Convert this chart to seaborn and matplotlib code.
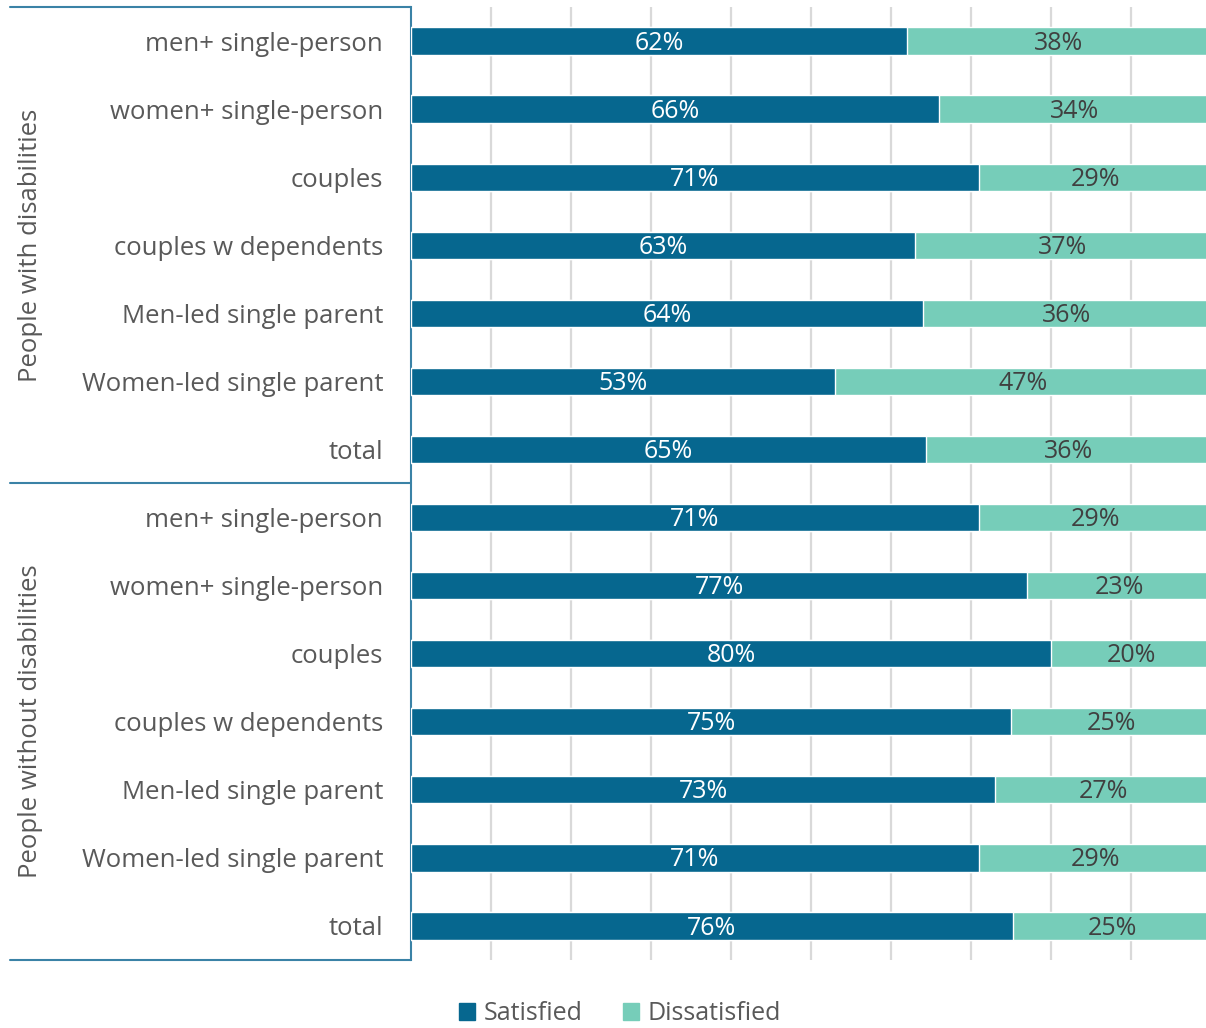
import matplotlib
matplotlib.use("Agg")
import matplotlib.pyplot as plt
import seaborn as sns
import pandas as pd
import numpy as np
from matplotlib.lines import Line2D

# ---- data ----
categories = ["men+ single-person", "women+ single-person", "couples",
              "couples w dependents", "Men-led single parent",
              "Women-led single parent", "total"]
groups = ["People with disabilities", "People without disabilities"]
satisfied = [62, 66, 71, 63, 64, 53, 65,
             71, 77, 80, 75, 73, 71, 76]
dissatisfied = [38, 34, 29, 37, 36, 47, 36,
                29, 23, 20, 25, 27, 29, 25]
legend_labels = ["Satisfied", "Dissatisfied"]

dark = "#06678f"
light = "#76cdb9"
line_col = "#3a82a6"
text_col = "#595959"

sns.set_theme(style="white")
plt.rcParams["font.family"] = ["Open Sans", "DejaVu Sans"]

rows = [f"{g}|{c}" for g in groups for c in categories]
sat = np.array(satisfied, float)
dis = np.array(dissatisfied, float)
tot = sat + dis
df = pd.DataFrame({"row": rows,
                   "sat_share": sat / tot * 100,
                   "total_share": tot / tot * 100})

fig = plt.figure(figsize=(12.06, 10.28), dpi=100)
W, H = 1206, 1028
ax = fig.add_axes([411 / W, (H - 960) / H, 800 / W, 953 / H])

sns.barplot(data=df, y="row", x="total_share", order=rows, orient="h",
            color=light, width=0.4, saturation=1, ax=ax, zorder=3)
sns.barplot(data=df, y="row", x="sat_share", order=rows, orient="h",
            color=dark, width=0.4, saturation=1, ax=ax, zorder=3)

ax.set_xlim(0, 100)
ax.set_ylim(len(rows) - 0.5, -0.5)
ax.set_xlabel("")
ax.set_ylabel("")
ax.set_xticks(np.arange(10, 101, 10))
ax.set_xticklabels([])
ax.tick_params(axis="x", length=0)
ax.grid(axis="x", color="#d9d9d9", linewidth=1.6, zorder=0)
ax.grid(axis="y", visible=False)
ax.set_axisbelow(True)
ax.set_yticks(range(len(rows)))
ax.set_yticklabels([r.split("|")[1] for r in rows], fontsize=18.5, color=text_col)
ax.tick_params(axis="y", length=0, pad=20)
for s in ["top", "right", "bottom"]:
    ax.spines[s].set_visible(False)
ax.spines["left"].set_color(line_col)
ax.spines["left"].set_linewidth(1.5)

# value labels
for i, r in enumerate(rows):
    s_share = df["sat_share"].iloc[i]
    ax.text(s_share / 2, i + 0.03, f"{satisfied[i]}%", ha="center", va="center",
            color="white", fontsize=18, zorder=5)
    ax.text((s_share + 100) / 2, i + 0.03, f"{dissatisfied[i]}%", ha="center",
            va="center", color="#404040", fontsize=18, zorder=5)

# group separators
for yp in [7, 483, 960]:
    fig.add_artist(Line2D([10 / W, 411 / W], [(H - yp) / H] * 2,
                          color=line_col, linewidth=1.5))
for gi, g in enumerate(groups):
    yc = (7 + 476 * gi + 7 + 476 * (gi + 1)) / 2
    fig.text(31 / W, (H - yc) / H, g, rotation=90, ha="center", va="center",
             fontsize=18.5, color=text_col)

handles = [plt.Rectangle((0, 0), 1, 1, color=dark),
           plt.Rectangle((0, 0), 1, 1, color=light)]
fig.legend(handles, legend_labels, loc="center", ncol=2,
           bbox_to_anchor=(620 / W, (H - 1014) / H), frameon=False,
           fontsize=18, handlelength=0.65, handleheight=0.65,
           handletextpad=0.35, columnspacing=1.6, labelcolor=text_col)

fig.savefig("out.png", dpi=100)
